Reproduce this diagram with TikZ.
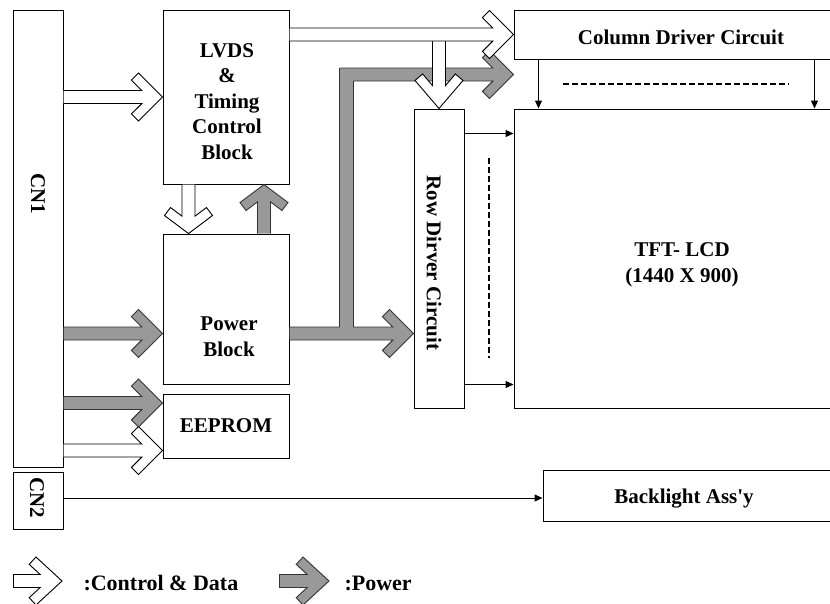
\documentclass[tikz,border=0pt]{standalone}
\usepackage{fontspec}
\setmainfont{Liberation Serif}[Ligatures=TeXOff]
\usepackage{xcolor}
\definecolor{pwrgray}{RGB}{153,153,153}
\usetikzlibrary{arrows.meta,calc}

% block arrow with a chevron head: [head length]{style}{from}{to}
\newcommand{\fatarrow}[4][24]{%
  \path let \p1=(#3), \p2=(#4), \n1={atan2(\y2-\y1,\x2-\x1)}, \n2={veclen(\x2-\x1,\y2-\y1)} in
    \pgfextra{\xdef\faang{\n1}\xdef\falen{\n2}\xdef\fax{\x1}\xdef\fay{\y1}};
  \pgfmathsetmacro\fan{veclen(#1,24)}%
  \pgfmathsetmacro\faxa{\falen-10*\fan/24-6.5*#1/24}%
  \pgfmathsetmacro\faxb{\falen-#1-240/\fan}%
  \pgfmathsetmacro\fayb{24-10*#1/\fan}%
  \pgfmathsetmacro\faxc{\falen-#1}%
  \filldraw[#2, shift={(\fax,\fay)}, rotate=\faang]
    (0,6.5) -- (\faxa,6.5) -- (\faxb,\fayb) -- (\faxc,24) -- (\falen,0)
    -- (\faxc,-24) -- (\faxb,-\fayb) -- (\faxa,-6.5) -- (0,-6.5);
}

\begin{document}
\begin{tikzpicture}[x=1pt, y=-1pt, line width=1pt,
    font=\bfseries\fontsize{21}{25.5}\selectfont,
    blk/.style={draw, fill=white, inner sep=0pt, align=center},
    lbl/.style={inner sep=0pt, align=center},
    ctlarrow/.style={draw=black, fill=white, line width=0.9pt},
    pwrarrow/.style={draw=black!80, fill=pwrgray, line width=0.9pt},
    sig/.style={-{Triangle[length=8pt,width=7pt]}},
    dots/.style={line width=2.2pt, dash pattern=on 6pt off 3pt},
    legend/.style={inner sep=0pt, anchor=west, font=\bfseries\fontsize{22}{26}\selectfont}]
    \useasboundingbox (0,0) rectangle (830,603);
    \clip (0,0) rectangle (830,603);

    % Connectors
    \node[blk, minimum width=50pt, minimum height=457pt] (cn1) at (38,238.5) {};
    \node[lbl, rotate=-90] (cn1txt) at (38,194) {CN1};
    \node[blk, minimum width=50pt, minimum height=57pt] (cn2) at (38,500.5) {};
    \node[lbl, rotate=-90] (cn2txt) at (37,498) {CN2};

    % Blocks on the board
    \node[blk, minimum width=126pt, minimum height=174pt] (lvds) at (226,97) {};
    \node[lbl] (lvdstxt) at (227,101.5) {LVDS\\\&\\Timing\\Control\\Block};
    \node[blk, minimum width=126pt, minimum height=150pt] (pwr) at (226,309) {};
    \node[lbl] (pwrtxt) at (229,336.5) {Power\\Block};
    \node[blk, minimum width=126pt, minimum height=64pt] (eeprom) at (226,426) {EEPROM};

    % Drivers and panel
    \node[blk, minimum width=334pt, minimum height=49pt] (col) at (681,34.5) {};
    \node[lbl] (coltxt) at (681,37) {Column Driver Circuit};
    \node[blk, minimum width=50pt, minimum height=299pt] (row) at (439,258.5) {};
    \node[lbl, rotate=-90] (rowtxt) at (434,263) {Row Dirver Circuit};
    \node[blk, minimum width=336pt, minimum height=299pt] (lcd) at (682,258.5) {};
    \node[lbl] (lcdtxt) at (682,265) {TFT- LCD\\(1440 X 900)};
    \node[blk, minimum width=317pt, minimum height=51pt] (blu) at (701.5,495.5) {};
    \node[lbl] (blutxt) at (684,499) {Backlight Ass'y};

    % Driver lines
    \draw[sig] ([xshift=25pt]col.south west) -- ([xshift=25pt]lcd.north west);
    \draw[sig] ([xshift=301pt]col.south west) -- ([xshift=301pt]lcd.north west);
    \draw[sig] ([yshift=-25pt]row.north east) -- ([yshift=-25pt]lcd.north west);
    \draw[sig] ([yshift=24pt]row.south east) -- ([yshift=24pt]lcd.south west);
    \draw[dots] (563,84) -- (789,84);
    \draw[dots] (489,158) -- (489,358);
    \draw[sig] (cn2.east |- cn2txt) -- (blu.west |- cn2txt);

    % Power
    \coordinate (pbus) at (0,333.5);
    \coordinate (eepwr) at (0,403);
    \coordinate (ptap) at (346.5,327);
    \coordinate (bend) at (346.5,74.5);
    \fatarrow{pwrarrow}{cn1.east |- pbus}{pwr.west |- pbus}
    \fatarrow[18]{pwrarrow}{[xshift=38pt]pwr.north}{[xshift=38pt]lvds.south}
    \fatarrow{pwrarrow}{pwr.east |- pbus}{row.west |- pbus}
    \fatarrow{pwrarrow}{[xshift=-7pt]bend}{col.west |- bend}
    \fill[pwrgray] ([xshift=-6.6pt]bend) rectangle ([xshift=6.6pt,yshift=-1.2pt]ptap);
    \draw[black!80, line width=0.9pt] ([xshift=-7pt,yshift=6.5pt]bend) -- ([xshift=-7pt]ptap)
      ([xshift=7pt,yshift=-6.5pt]bend) -- ([xshift=7pt]ptap);

    % Control and data
    \coordinate (eectl) at (0,450.5);
    \fatarrow{ctlarrow}{cn1.east |- lvds.west}{lvds.west}
    \fatarrow[18]{ctlarrow}{[xshift=-37.5pt]lvds.south}{[xshift=-37.5pt]pwr.north}
    \fatarrow[28]{ctlarrow}{row.north |- col.west}{row.north}
    \fatarrow{ctlarrow}{lvds.east |- col.west}{col.west}
    \fatarrow{ctlarrow}{cn1.east |- eectl}{eeprom.west |- eectl}
    \fatarrow{pwrarrow}{cn1.east |- eepwr}{eeprom.west |- eepwr}

    % Legend
    \coordinate (lgctl) at (13,581);
    \coordinate (lgctltip) at (62,581);
    \coordinate (lgpwr) at (279,581);
    \coordinate (lgpwrtip) at (329,581);
    \fatarrow[26]{ctlarrow}{lgctl}{lgctltip}
    \draw[line width=0.9pt] ([yshift=6.5pt]lgctl) -- ([yshift=-6.5pt]lgctl);
    \node[legend] (lgctltxt) at (83,583) {:Control \& Data};
    \fatarrow[26]{pwrarrow}{lgpwr}{lgpwrtip}
    \draw[black!80, line width=0.9pt] ([yshift=6.5pt]lgpwr) -- ([yshift=-6.5pt]lgpwr);
    \node[legend] (lgpwrtxt) at (344,583) {:Power};
\end{tikzpicture}
\end{document}
